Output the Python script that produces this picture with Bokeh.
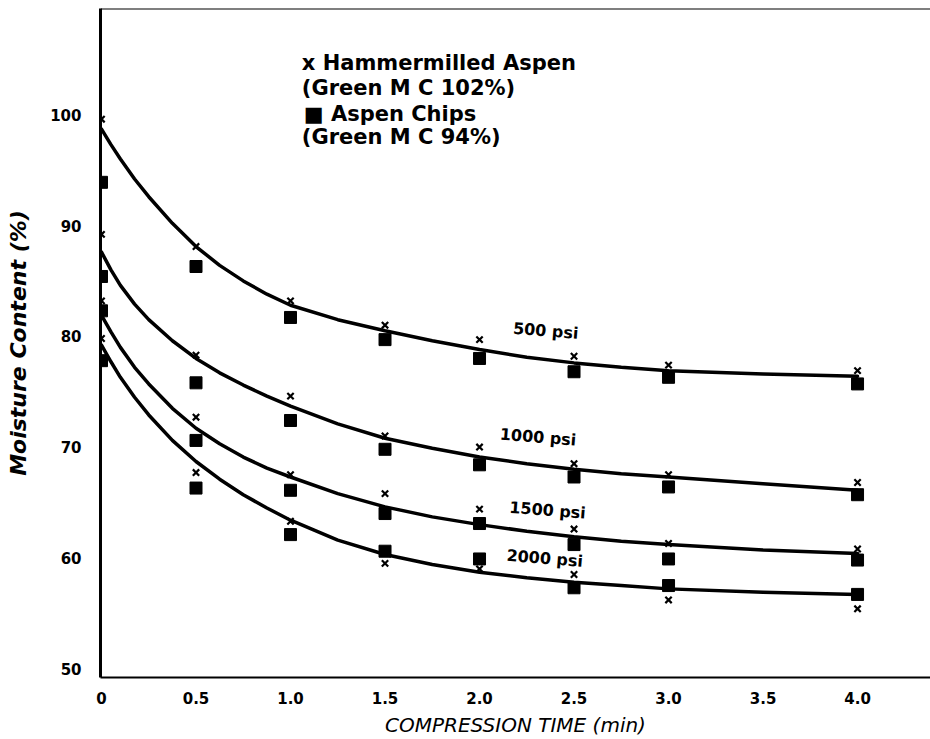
from bokeh.plotting import figure
from bokeh.models import Range1d, FixedTicker, Span
from bokeh.core.properties import value
from bokeh.embed import file_html
from bokeh.resources import INLINE

# ---------------- data ----------------
times = [0, 0.5, 1.0, 1.5, 2.0, 2.5, 3.0, 4.0]
pressures = ["500 psi", "1000 psi", "1500 psi", "2000 psi"]

# Hammermilled aspen (x markers)
ham_500 = [99.6, 88.1, 83.2, 81.0, 79.7, 78.2, 77.4, 76.9]
ham_1000 = [89.2, 78.3, 74.6, 71.0, 70.0, 68.5, 67.5, 66.8]
ham_1500 = [83.2, 72.7, 67.5, 65.8, 64.4, 62.6, 61.3, 60.8]
ham_2000 = [79.8, 67.7, 63.3, 59.5, 59.0, 58.5, 56.2, 55.4]

# Aspen chips (square markers)
chip_500 = [93.9, 86.3, 81.7, 79.7, 78.0, 76.8, 76.3, 75.7]
chip_1000 = [85.4, 75.8, 72.4, 69.8, 68.4, 67.3, 66.4, 65.7]
chip_1500 = [82.3, 70.6, 66.1, 64.0, 63.1, 61.2, 59.9, 59.8]
chip_2000 = [77.8, 66.3, 62.1, 60.6, 59.9, 57.3, 57.5, 56.7]

# Fitted curves
curve_t = [0, 0.05, 0.1, 0.175, 0.25, 0.375, 0.5, 0.625, 0.75, 0.875, 1.0,
           1.25, 1.5, 1.75, 2.0, 2.25, 2.5, 2.75, 3.0, 3.5, 4.0]
curve_500 = [98.7, 97.3, 96.0, 94.2, 92.6, 90.2, 88.1, 86.4, 85.0, 83.8, 82.8,
             81.5, 80.5, 79.6, 78.8, 78.1, 77.6, 77.2, 76.9, 76.6, 76.4]
curve_1000 = [87.6, 86.0, 84.6, 82.9, 81.5, 79.6, 78.0, 76.7, 75.6, 74.6, 73.7,
              72.1, 70.8, 69.9, 69.1, 68.5, 68.0, 67.6, 67.3, 66.7, 66.1]
curve_1500 = [81.9, 80.4, 79.0, 77.2, 75.7, 73.5, 71.7, 70.3, 69.1, 68.1, 67.3,
              65.8, 64.6, 63.7, 63.0, 62.4, 61.9, 61.5, 61.2, 60.7, 60.4]
curve_2000 = [79.2, 77.7, 76.3, 74.5, 72.9, 70.6, 68.7, 67.1, 65.7, 64.5, 63.4,
              61.6, 60.3, 59.4, 58.7, 58.2, 57.8, 57.5, 57.2, 56.9, 56.7]

x_ticks = [0, 0.5, 1.0, 1.5, 2.0, 2.5, 3.0, 3.5, 4.0]
x_tick_labels = ["0", "0.5", "1.0", "1.5", "2.0", "2.5", "3.0", "3.5", "4.0"]
y_ticks = [50, 60, 70, 80, 90, 100]

legend_lines = ["x Hammermilled Aspen", "(Green M C 102%)", "\u25a0 Aspen Chips", "(Green M C 94%)"]

# ---------------- figure ----------------
X0, X1 = -0.0053, 4.386
Y0, Y1 = 49.2, 109.59

p = figure(width=930, height=739, output_backend="svg", toolbar_location=None,
           x_range=Range1d(X0, X1), y_range=Range1d(Y0, Y1),
           min_border_left=100, min_border_right=0, min_border_top=8, min_border_bottom=57,
           x_axis_label="COMPRESSION TIME (min)", y_axis_label="Moisture Content (%)")
p.grid.visible = False
p.outline_line_color = None
p.background_fill_color = "white"
p.border_fill_color = "white"

for ax in (p.xaxis[0], p.yaxis[0]):
    ax.axis_line_color = "black"
    ax.major_tick_line_color = None
    ax.minor_tick_line_color = None
    ax.major_label_text_font = "DejaVu Sans"
    ax.major_label_text_font_style = "bold"
    ax.major_label_text_font_size = "15px"
    ax.major_label_text_color = "black"
    ax.axis_label_text_font = "DejaVu Sans"
    ax.axis_label_text_color = "black"

p.yaxis.axis_line_width = 3
p.xaxis.axis_line_width = 2
p.xaxis.ticker = FixedTicker(ticks=x_ticks)
p.xaxis.major_label_overrides = {t: l for t, l in zip(x_ticks, x_tick_labels)}
p.yaxis.ticker = FixedTicker(ticks=y_ticks)
p.xaxis.major_label_standoff = 8
p.yaxis.major_label_standoff = 13
p.xaxis.axis_label_text_font_style = "italic"
p.yaxis.axis_label_text_font_style = "bold italic"
p.xaxis.axis_label_text_font_size = "20px"
p.yaxis.axis_label_text_font_size = "22px"
p.xaxis.axis_label_standoff = 6
p.yaxis.axis_label_standoff = 16

# top frame line
p.add_layout(Span(location=Y1, dimension="width", line_color="black", line_width=2))

# curves
for cv in (curve_500, curve_1000, curve_1500, curve_2000):
    p.line(curve_t, cv, line_color="black", line_width=3.5, line_join="round", line_cap="round")

# markers
for hv in (ham_500, ham_1000, ham_1500, ham_2000):
    p.scatter(times, hv, marker="x", size=9, line_color="black", line_width=2.2)
for cv in (chip_500, chip_1000, chip_1500, chip_2000):
    p.scatter(times, cv, marker="square", size=12, fill_color="black", line_color="black")

# curve labels
lab_x = [2.35, 2.31, 2.36, 2.345]
lab_y = [80.5, 70.9, 64.3, 59.95]
p.text(x=lab_x, y=lab_y, text=pressures, angle=-0.08, text_align="center", text_baseline="middle",
       text_font=value("DejaVu Sans"), text_font_style="bold", text_font_size="16px", text_color="black")

# legend text
leg_x = [1.06, 1.06, 1.07, 1.06]
leg_y = [104.7, 102.4, 100.1, 98.0]
p.text(x=leg_x, y=leg_y, text=legend_lines, text_align="left", text_baseline="middle",
       text_font=value("DejaVu Sans"), text_font_style="bold", text_font_size="21px", text_color="black")

open("out.html", "w").write(file_html(p, INLINE))
